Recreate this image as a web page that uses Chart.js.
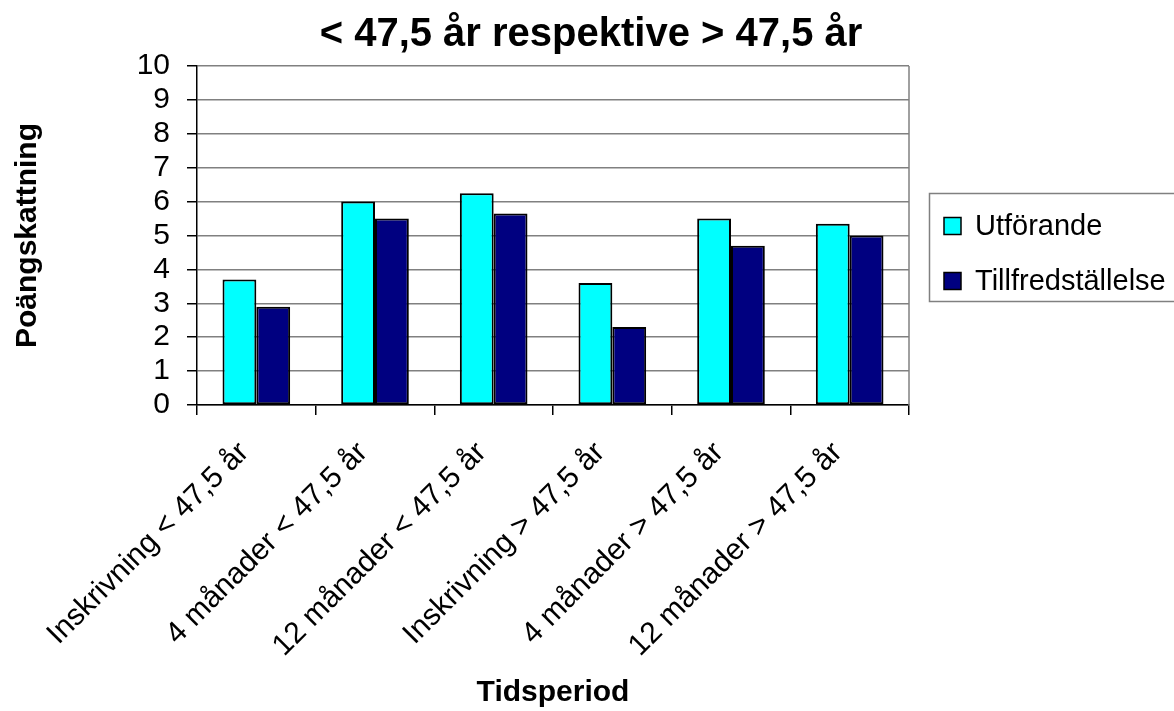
<!DOCTYPE html>
<html>
<head>
<meta charset="utf-8">
<script src="https://cdn.jsdelivr.net/npm/chart.js@4"></script>
<style>
  html, body { margin: 0; padding: 0; background: #fff; }
  #wrap { width: 1174px; height: 711px; position: relative; }
</style>
</head>
<body>
<div id="wrap"><canvas id="c" width="1174" height="711"></canvas></div>
<script>
const categories = [
  "Inskrivning < 47,5 år",
  "4 månader < 47,5 år",
  "12 månader < 47,5 år",
  "Inskrivning > 47,5 år",
  "4 månader > 47,5 år",
  "12 månader > 47,5 år"
];
const seriesNames = ["Utförande", "Tillfredställelse"];
const utforande = [3.7, 6.0, 6.25, 3.6, 5.5, 5.35];
const tillfredstallelse = [2.9, 5.5, 5.65, 2.3, 4.7, 5.0];
const seriesColors = ["#00FFFF", "#000080"];
const yTicks = [0, 1, 2, 3, 4, 5, 6, 7, 8, 9, 10];
const chartTitle = "< 47,5 år respektive > 47,5 år";

const FONT = "'Liberation Sans', Arial, sans-serif";

const decorPlugin = {
  id: 'decor',
  afterDraw(chart) {
    const ctx = chart.ctx;
    ctx.save();
    // chart title, centred over the whole canvas
    ctx.fillStyle = '#000';
    ctx.font = "bold 40px " + FONT;
    ctx.textAlign = 'center';
    ctx.textBaseline = 'middle';
    ctx.fillText(chartTitle, 591, 35);
    // plot area right border (gray)
    const a = chart.chartArea;
    ctx.strokeStyle = '#808080';
    ctx.lineWidth = 1.5;
    ctx.beginPath();
    ctx.moveTo(a.right, a.top);
    ctx.lineTo(a.right, a.bottom);
    ctx.stroke();
    // legend box
    ctx.strokeRect(929.5, 193.5, 270, 108);
    ctx.font = "29px " + FONT;
    ctx.textAlign = 'left';
    const rows = [226, 281];
    chart.data.datasets.forEach((ds, i) => {
      const y = rows[i];
      ctx.fillStyle = ds.backgroundColor;
      ctx.fillRect(944, y - 8.5, 17, 17);
      ctx.strokeStyle = '#000';
      ctx.lineWidth = 1.5;
      ctx.strokeRect(944, y - 8.5, 17, 17);
      ctx.fillStyle = '#000';
      ctx.fillText(ds.label, 975, y + 1);
    });
    ctx.restore();
  }
};

new Chart(document.getElementById('c'), {
  type: 'bar',
  data: {
    labels: categories,
    datasets: [
      { label: seriesNames[0], data: utforande, backgroundColor: seriesColors[0],
        borderColor: '#000', borderWidth: 2, borderSkipped: false },
      { label: seriesNames[1], data: tillfredstallelse, backgroundColor: seriesColors[1],
        borderColor: '#000', borderWidth: 2, borderSkipped: false }
    ]
  },
  options: {
    responsive: false,
    animation: false,
    devicePixelRatio: 1,
    layout: { padding: { left: 0, right: 265, top: 66, bottom: 0 } },
    datasets: { bar: { categoryPercentage: 0.57, barPercentage: 1.0 } },
    plugins: {
      legend: { display: false },
      tooltip: { enabled: false },
      title: { display: false }
    },
    scales: {
      x: {
        afterFit(scale) { scale.height = 306; },
        grid: { drawOnChartArea: false, tickLength: 10, tickColor: '#000', offset: true, lineWidth: 1.5 },
        border: { color: '#000', width: 1.5 },
        ticks: {
          color: '#000', font: { family: FONT, size: 30 },
          maxRotation: 45, minRotation: 45, padding: 20, labelOffset: -12, autoSkip: false
        },
        title: {
          display: true, text: 'Tidsperiod', color: '#000',
          font: { family: FONT, size: 30, weight: 'bold' },
          padding: { top: 0, bottom: 0 }
        }
      },
      y: {
        min: 0, max: 10,
        afterFit(scale) { scale.width = 197; },
        afterBuildTicks(scale) { scale.ticks = yTicks.map(v => ({ value: v })); },
        grid: { color: '#808080', lineWidth: 1.5, tickLength: 10, tickColor: '#000' },
        border: { color: '#000', width: 1.5 },
        ticks: { color: '#000', font: { family: FONT, size: 30 }, padding: 17, autoSkip: false, stepSize: 1 },
        title: {
          display: true, text: 'Poängskattning', color: '#000',
          font: { family: FONT, size: 30, weight: 'bold' },
          padding: { top: 10, bottom: 0 }
        }
      }
    }
  },
  plugins: [decorPlugin]
});
</script>
</body>
</html>
